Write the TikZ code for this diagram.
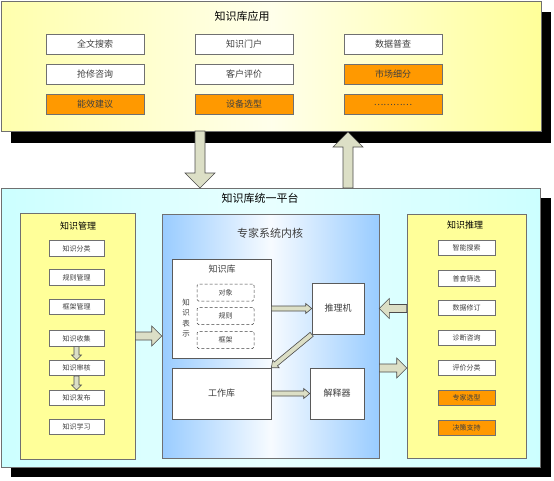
\documentclass[tikz,border=0pt]{standalone}
\usepackage{fontspec}
\setmainfont{Noto Sans CJK SC}
\usetikzlibrary{calc}
\definecolor{pyellow}{HTML}{FFFF99}
\definecolor{pcyan}{HTML}{CCFFFF}
\definecolor{pblue}{HTML}{99CCFF}
\definecolor{porange}{HTML}{FF9900}
\definecolor{afill}{HTML}{DCDFC6}
\definecolor{bord}{HTML}{707070}
\definecolor{txt}{HTML}{404040}
\newcommand\blockarr[5]{% from, to, shaft half width, head half width, head length
  \coordinate (ba-h) at ($(#2)!#5!(#1)$);
  \draw[blockarrow] ($(#1)!#3!90:(#2)$) -- ($(ba-h)!#3!-90:(#1)$) -- ($(ba-h)!#4!-90:(#1)$) -- (#2)
    -- ($(ba-h)!#4!90:(#1)$) -- ($(ba-h)!#3!90:(#1)$) -- ($(#1)!#3!-90:(#2)$) -- cycle;
}
\begin{document}
\begin{tikzpicture}[x=1pt,y=-1pt,
  panel/.style={draw=bord, line width=0.6pt, inner sep=0pt},
  appbox/.style={draw=bord, line width=0.6pt, fill=white, minimum width=98pt, minimum height=20pt,
     inner sep=0pt, text=txt, font=\fontsize{9}{11}\selectfont},
  orbox/.style={appbox, fill=porange},
  smallbox/.style={draw=bord, line width=0.6pt, fill=white, minimum width=55pt, minimum height=15.5pt,
     inner sep=0pt, text=txt, font=\fontsize{7}{9}\selectfont},
  smallor/.style={smallbox, fill=porange},
  corebox/.style={draw=bord!80!black, line width=0.6pt, fill=white, inner sep=0pt, text=txt,
     font=\fontsize{9}{11}\selectfont},
  dashbox/.style={draw=txt, densely dashed, rounded corners=1.5pt, line width=0.5pt, minimum width=57pt,
     minimum height=17pt, inner sep=0pt, text=txt, font=\fontsize{7}{9}\selectfont},
  title/.style={font=\fontsize{11}{13}\selectfont, text=black},
  subtitle/.style={font=\fontsize{9}{11}\selectfont, text=black},
  blockarrow/.style={draw=gray!60!black, fill=afill, line width=0.6pt, line join=miter}]
\useasboundingbox (0,0) rectangle (554,480);
% shadows
\fill[black] (11,12) rectangle (551,143);
\fill[black] (11,198) rectangle (551,477);
% top panel
\node[panel, minimum width=540pt, minimum height=130pt, left color=pyellow!80!white,
  right color=pyellow, middle color=pyellow!20!white] (top) at (271,66) {};
\node[title] (toptitle) at (242,16) {知识库应用};
\node[appbox] (t11) at (95,44) {全文搜索};
\node[appbox] (t12) at (244,44) {知识门户};
\node[appbox] (t13) at (393,44) {数据普查};
\node[appbox] (t21) at (95,74) {抢修咨询};
\node[appbox] (t22) at (244,74) {客户评价};
\node[orbox]  (t23) at (393,74) {市场细分};
\node[orbox]  (t31) at (95,104.5) {能效建议};
\node[orbox]  (t32) at (244,104.5) {设备选型};
\node[orbox]  (t33) at (393,104.5) {…………};
% bottom panel
\node[panel, minimum width=539pt, minimum height=279pt, left color=pcyan,
  right color=pcyan, middle color=pcyan!45!white] (bot) at (270.5,327.5) {};
\node[title] (bottitle) at (260,198) {知识库统一平台};
% vertical arrows between panels
\coordinate (dA) at (200,131);
\coordinate (dB) at (200,188);
\coordinate (uA) at (348,188);
\coordinate (uB) at (348,132);
\blockarr{dA}{dB}{5pt}{15pt}{15pt}
\blockarr{uA}{uB}{5pt}{15pt}{15pt}
% left panel
\node[panel, fill=pyellow, minimum width=115pt, minimum height=246pt] (lp) at (77.5,336) {};
\node[subtitle] (lptitle) at (78,226) {知识管理};
\node[smallbox] (l1) at (76.5,248.5) {知识分类};
\node[smallbox] (l2) at (76.5,277.5) {规则管理};
\node[smallbox] (l3) at (76.5,307) {框架管理};
\node[smallbox] (l4) at (76.5,338.5) {知识收集};
\node[smallbox] (l5) at (76.5,368) {知识审核};
\node[smallbox] (l6) at (76.5,398) {知识发布};
\node[smallbox] (l7) at (76.5,427) {知识学习};
\blockarr{l4.south}{l5.north}{2.5pt}{5pt}{5pt}
\blockarr{l5.south}{l6.north}{2.5pt}{5pt}{5pt}
% right panel
\node[panel, fill=pyellow, minimum width=119pt, minimum height=244pt] (rp) at (466.5,336) {};
\node[subtitle] (rptitle) at (465,225) {知识推理};
\node[smallbox, minimum width=57pt] (r1) at (466.5,248) {智能搜索};
\node[smallbox, minimum width=57pt] (r2) at (466.5,278.5) {普查筛选};
\node[smallbox, minimum width=57pt] (r3) at (466.5,308) {数据修订};
\node[smallbox, minimum width=57pt] (r4) at (466.5,338) {诊断咨询};
\node[smallbox, minimum width=57pt] (r5) at (466.5,368) {评价分类};
\node[smallor, minimum width=57pt] (r6) at (466.5,398) {专家选型};
\node[smallor, minimum width=57pt] (r7) at (466.5,428) {决策支持};
% center panel
\node[panel, minimum width=217pt, minimum height=244pt, left color=pblue,
  right color=pblue, middle color=pblue!8!white] (cp) at (270.5,336) {};
\node[title, text=txt] (cptitle) at (270,233) {专家系统内核};
\node[corebox, minimum width=99pt, minimum height=99pt] (kb) at (221.5,308.5) {};
\node[subtitle, text=txt] (kbtitle) at (222,269) {知识库};
\node[text=txt, align=center, inner sep=0pt, font=\fontsize{7.5}{10.5}\selectfont] (kr) at (186,318) {知\\识\\表\\示};
\node[dashbox] (d1) at (225.5,292.5) {对象};
\node[dashbox] (d2) at (225.5,316) {规则};
\node[dashbox] (d3) at (225.5,340) {框架};
\node[corebox, minimum width=52pt, minimum height=51pt] (tl) at (338,308.5) {推理机};
\node[corebox, minimum width=99pt, minimum height=51pt] (wk) at (221.5,393.5) {工作库};
\node[corebox, minimum width=54pt, minimum height=51pt] (js) at (337,393.5) {解释器};
\blockarr{kb.east}{tl.west}{2.5pt}{5pt}{6pt}
\blockarr{tl.south west}{wk.north east}{2.5pt}{5pt}{6pt}
\blockarr{wk.east}{js.west}{2.5pt}{5pt}{6pt}
% arrows between panels
\blockarr{lp.east}{cp.west}{4pt}{10pt}{10pt}
\coordinate (rA) at (rp.west |- tl.west);
\coordinate (rB) at (cp.east |- tl.west);
\blockarr{rA}{rB}{4pt}{10pt}{10pt}
\coordinate (sA) at (cp.east |- r5.west);
\coordinate (sB) at (rp.west |- r5.west);
\blockarr{sA}{sB}{4pt}{10pt}{10pt}
\end{tikzpicture}
\end{document}
